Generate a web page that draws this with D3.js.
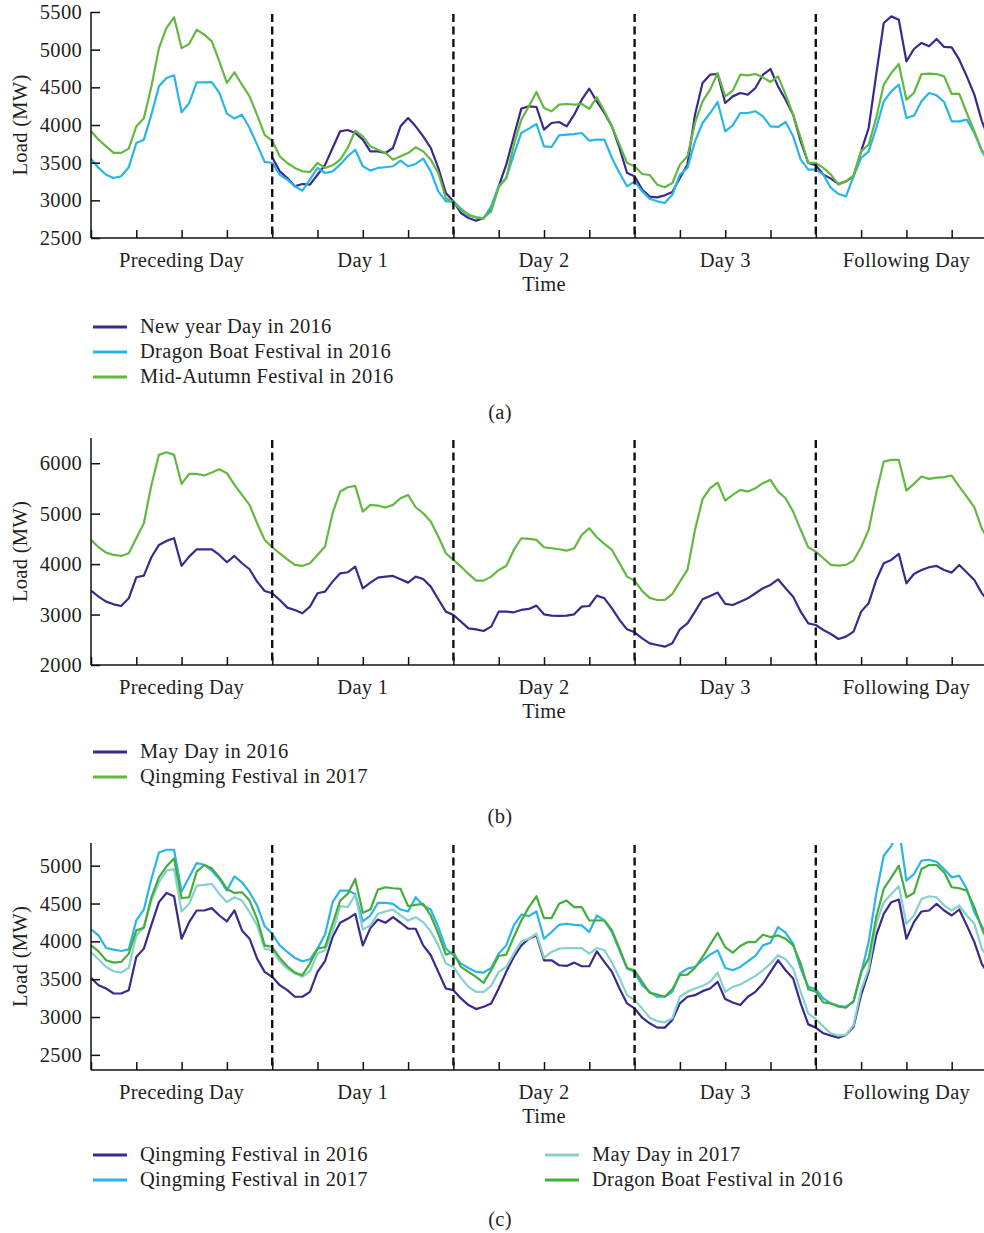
<!DOCTYPE html>
<html><head><meta charset="utf-8">
<script src="https://cdn.jsdelivr.net/npm/d3@7"></script>
<style>
body{margin:0;background:#fff}
svg{display:block}
text{font-family:"Liberation Serif","Times New Roman",serif;fill:#231f20}
</style>
</head><body>
<svg id="chart" width="984" height="1233"></svg>
<script>
// ---------- data ----------
const dayLabels = ["Preceding Day", "Day 1", "Day 2", "Day 3", "Following Day"];
const hoursPerDay = 24;
const xTitle = "Time";
const yTitle = "Load (MW)";

const aTicks = [2500, 3000, 3500, 4000, 4500, 5000, 5500];
const bTicks = [2000, 3000, 4000, 5000, 6000];
const cTicks = [2500, 3000, 3500, 4000, 4500, 5000];

// (a)
const aNewYear2016Start = 24;
const aNewYear2016 = [3571,3385,3296,3186,3217,3208,3340,3470,3695,3916,3934,3894,3805,3650,3650,3628,3695,3982,4093,3982,3850,3695,3430,3097,
 2987,2832,2765,2730,2765,2898,3186,3473,3850,4217,4248,4239,3939,4027,4040,3982,4137,4336,4482,4314,4159,3982,3695,3363,
 3319,3142,3050,3040,3066,3110,3297,3474,4137,4557,4668,4677,4292,4380,4425,4403,4491,4668,4743,4513,4336,4137,3783,3496,
 3465,3341,3288,3217,3252,3319,3650,3960,4668,5354,5442,5398,4845,5009,5089,5045,5142,5036,5031,4867,4646,4403,4049,3800];
const aDragonBoat2016 = [3553,3430,3340,3296,3320,3440,3760,3805,4137,4513,4625,4660,4170,4290,4566,4566,4570,4425,4150,4085,4137,3960,3740,3510,
 3496,3340,3274,3186,3128,3274,3430,3363,3385,3474,3584,3672,3452,3394,3430,3439,3452,3527,3452,3483,3553,3385,3120,2987,
 2987,2889,2810,2774,2757,2920,3186,3297,3606,3894,3952,4013,3717,3708,3863,3872,3880,3894,3792,3805,3805,3562,3363,3186,
 3252,3120,3020,2987,2965,3075,3341,3430,3783,4027,4159,4305,3916,3996,4159,4159,4182,4115,3982,3974,4040,3850,3540,3407,
 3407,3341,3164,3084,3053,3319,3562,3650,3960,4314,4447,4535,4093,4124,4314,4425,4394,4305,4049,4049,4071,3894,3650,3500];
const aMidAutumn2016 = [3920,3805,3717,3630,3630,3686,3980,4090,4510,5020,5290,5430,5020,5075,5265,5200,5110,4845,4560,4700,4535,4380,4135,3870,
 3790,3584,3496,3430,3385,3376,3496,3430,3465,3540,3695,3925,3850,3717,3672,3628,3540,3584,3628,3704,3650,3540,3363,3031,
 2965,2876,2801,2774,2765,2854,3173,3297,3739,4071,4248,4438,4226,4182,4270,4279,4270,4279,4213,4368,4182,3982,3739,3496,
 3452,3350,3336,3208,3173,3230,3474,3584,4027,4314,4469,4690,4380,4456,4668,4659,4677,4633,4571,4646,4403,4137,3828,3496,
 3496,3430,3341,3208,3252,3332,3650,3739,4093,4535,4690,4810,4336,4425,4677,4681,4677,4646,4412,4412,4159,3916,3660,3560];

// (b)
const bMayDay2016 = [3474,3355,3256,3203,3170,3322,3739,3772,4136,4380,4460,4513,3964,4149,4294,4294,4294,4182,4037,4162,4017,3898,3653,3468,
 3422,3289,3137,3091,3025,3157,3422,3454,3653,3818,3838,3950,3521,3633,3732,3752,3765,3699,3633,3752,3706,3554,3303,3058,
 2992,2860,2727,2707,2674,2760,3058,3058,3045,3091,3111,3177,3005,2979,2972,2979,3005,3157,3170,3375,3322,3124,2893,2707,
 2648,2529,2430,2397,2364,2430,2707,2826,3058,3303,3369,3435,3210,3190,3256,3322,3422,3521,3587,3699,3521,3355,3058,2826,
 2793,2694,2615,2516,2562,2661,3058,3223,3686,4017,4083,4202,3620,3805,3884,3937,3964,3884,3832,3984,3832,3686,3420,3250];
const bQingming2017 = [4480,4334,4228,4182,4162,4215,4513,4810,5570,6166,6218,6166,5590,5789,5789,5756,5815,5881,5802,5570,5372,5174,4810,4480,
 4334,4215,4096,3984,3964,4017,4182,4347,5008,5438,5524,5551,5041,5174,5161,5121,5174,5306,5372,5127,5008,4843,4546,4215,
 4083,3951,3805,3673,3673,3752,3884,3964,4281,4513,4499,4480,4334,4314,4294,4268,4314,4579,4711,4533,4400,4281,4017,3752,
 3673,3468,3330,3289,3289,3408,3653,3884,4678,5286,5504,5617,5260,5372,5471,5438,5504,5604,5670,5438,5306,5041,4678,4334,
 4248,4116,3984,3970,3984,4070,4334,4678,5405,6033,6066,6066,5458,5590,5736,5690,5716,5723,5756,5537,5339,5127,4700,4450];

// (c)
const cQingming2016 = [3518,3421,3377,3311,3311,3355,3794,3904,4219,4518,4640,4596,4035,4254,4408,4408,4439,4342,4263,4408,4145,4035,3772,3597,
 3531,3421,3355,3268,3268,3333,3597,3740,4057,4246,4298,4364,3947,4175,4289,4246,4320,4246,4167,4167,3947,3816,3597,3377,
 3355,3246,3158,3105,3136,3180,3377,3597,3794,3947,4035,4079,3750,3750,3684,3675,3719,3671,3671,3868,3728,3597,3377,3180,
 3114,2991,2917,2860,2860,2961,3180,3268,3289,3342,3377,3465,3237,3193,3158,3268,3333,3443,3597,3750,3618,3509,3180,2903,
 2860,2785,2754,2728,2763,2873,3289,3597,4079,4364,4518,4553,4035,4254,4395,4408,4496,4408,4342,4421,4211,3991,3700,3550];
const cQingming2017 = [4158,4079,3912,3890,3873,3895,4276,4421,4825,5175,5211,5211,4658,4846,5035,5013,4934,4825,4671,4860,4781,4649,4474,4202,
 4101,3947,3860,3781,3737,3763,3904,4090,4518,4671,4671,4627,4263,4342,4509,4509,4496,4421,4395,4583,4474,4421,4189,3904,
 3816,3706,3649,3597,3588,3649,3838,3947,4211,4355,4333,4395,4035,4123,4219,4233,4219,4211,4123,4342,4276,4123,3882,3640,
 3597,3421,3333,3268,3268,3333,3575,3640,3662,3750,3825,3882,3649,3618,3662,3737,3807,3947,3982,4189,4114,3969,3640,3399,
 3368,3246,3180,3149,3136,3202,3575,3991,4627,5132,5263,5500,4803,4890,5066,5079,5053,4956,4846,4868,4693,4386,4200,4000];
const cMayDay2017 = [3851,3763,3662,3605,3588,3649,4079,4189,4539,4781,4934,4956,4395,4496,4737,4746,4759,4627,4518,4583,4539,4386,4211,3904,
 3882,3737,3640,3575,3531,3605,3838,3882,4123,4465,4452,4614,4158,4211,4364,4395,4421,4342,4276,4320,4254,4132,3947,3706,
 3662,3518,3399,3333,3333,3412,3597,3662,3838,4000,4035,4101,3781,3860,3904,3912,3912,3912,3838,3912,3882,3719,3518,3290,
 3224,3114,2990,2947,2930,2982,3268,3333,3377,3412,3465,3588,3333,3399,3430,3487,3544,3618,3706,3816,3763,3640,3333,3048,
 2974,2873,2785,2754,2763,2895,3355,3640,4232,4518,4627,4728,4232,4342,4561,4596,4583,4474,4408,4474,4342,4232,3900,3750];
const cDragonBoat2016 = [3947,3868,3750,3719,3728,3838,4145,4180,4583,4846,4991,5096,4570,4583,4921,5009,4965,4846,4693,4640,4649,4539,4298,3947,
 3925,3781,3671,3588,3553,3706,3904,3925,4233,4539,4627,4825,4377,4421,4684,4715,4702,4693,4465,4483,4496,4342,4101,3825,
 3860,3662,3597,3531,3452,3618,3807,3825,4057,4276,4452,4596,4307,4307,4496,4539,4452,4452,4276,4276,4276,4145,3904,3649,
 3618,3465,3320,3298,3268,3368,3553,3561,3649,3794,3956,4114,3925,3851,3939,3991,3991,4088,4057,4079,4035,3947,3706,3368,
 3333,3193,3180,3136,3123,3211,3597,3772,4320,4693,4846,5000,4583,4640,4956,5009,5009,4912,4715,4702,4671,4452,4167,3950];

// ---------- styles ----------
const NAVY = "#3b2a8d", CYAN = "#29b5ea", GREEN = "#63b940", TEAL = "#86d1cd", GREEN2 = "#45ad3b";
const FONT = "20.5px";

const panels = [
  { top: 12, bottom: 238, domain: [2500, 5500], ticks: aTicks, caption: "(a)", captionY: 419,
    legendY: 327, legendCols: [93],
    series: [
      { name: "New year Day in 2016", color: NAVY, values: aNewYear2016, start: aNewYear2016Start, col: 0, row: 0 },
      { name: "Dragon Boat Festival in 2016", color: CYAN, values: aDragonBoat2016, start: 0, col: 0, row: 1 },
      { name: "Mid-Autumn Festival in 2016", color: GREEN, values: aMidAutumn2016, start: 0, col: 0, row: 2 }
    ] },
  { top: 438, bottom: 665, domain: [2000, 6500], ticks: bTicks, caption: "(b)", captionY: 823,
    legendY: 752, legendCols: [93],
    series: [
      { name: "May Day in 2016", color: NAVY, values: bMayDay2016, start: 0, col: 0, row: 0 },
      { name: "Qingming Festival in 2017", color: GREEN, values: bQingming2017, start: 0, col: 0, row: 1 }
    ] },
  { top: 843, bottom: 1070, domain: [2300, 5300], ticks: cTicks, caption: "(c)", captionY: 1226,
    legendY: 1155, legendCols: [93, 545],
    series: [
      { name: "Qingming Festival in 2016", color: NAVY, values: cQingming2016, start: 0, col: 0, row: 0 },
      { name: "Qingming Festival in 2017", color: CYAN, values: cQingming2017, start: 0, col: 0, row: 1 },
      { name: "May Day in 2017", color: TEAL, values: cMayDay2017, start: 0, col: 1, row: 0 },
      { name: "Dragon Boat Festival in 2016", color: GREEN2, values: cDragonBoat2016, start: 0, col: 1, row: 1 }
    ] }
];

const svg = d3.select("#chart");
const left = 91, right = 997;
const nDays = dayLabels.length;
const x = d3.scaleLinear().domain([0, nDays * hoursPerDay]).range([left, right]);

function label(sel) {
  return sel.style("font-size", FONT).style("letter-spacing", "0.3px");
}

panels.forEach((p, pi) => {
  const y = d3.scaleLinear().domain(p.domain).range([p.bottom, p.top]);
  const g = svg.append("g");
  const clipId = "clip" + pi;
  svg.append("clipPath").attr("id", clipId).append("rect")
    .attr("x", left).attr("y", p.top).attr("width", right - left).attr("height", p.bottom - p.top);

  // series lines
  const lines = g.append("g").attr("clip-path", `url(#${clipId})`);
  p.series.forEach(s => {
    const line = d3.line().x((d, i) => x(i + s.start)).y(d => y(d));
    lines.append("path").datum(s.values)
      .attr("d", line).attr("fill", "none")
      .attr("stroke", s.color).attr("stroke-width", 2.2)
      .attr("stroke-linejoin", "round");
  });

  // day separators
  d3.range(1, nDays).forEach(d => {
    g.append("line").attr("x1", x(d * hoursPerDay)).attr("x2", x(d * hoursPerDay))
      .attr("y1", p.top + 2).attr("y2", p.bottom)
      .attr("stroke", "#111").attr("stroke-width", 2.4).attr("stroke-dasharray", "8,4.5");
  });

  // x axis
  const xAxis = d3.axisBottom(x)
    .tickValues(d3.range(0, nDays * hoursPerDay + 1, 6))
    .tickSize(-8).tickFormat("");
  const xg = g.append("g").attr("transform", `translate(0,${p.bottom})`).call(xAxis);
  xg.selectAll("path,line").attr("stroke", "#111").attr("stroke-width", 1.5);
  xg.select(".domain").attr("d", `M${left},0H${right}`);

  // y axis (ticks point inward)
  const yAxis = d3.axisLeft(y).tickValues(p.ticks).tickSize(-9).tickPadding(9).tickFormat(d3.format("d"));
  const yg = g.append("g").attr("transform", `translate(${left},0)`).call(yAxis);
  yg.selectAll("path,line").attr("stroke", "#111").attr("stroke-width", 1.5);
  yg.select(".domain").attr("d", `M0,${p.top}V${p.bottom}`);
  yg.selectAll("text").attr("fill", "#231f20")
    .style("font-family", '"Liberation Serif",serif').call(label);

  // day labels
  dayLabels.forEach((lab, d) => {
    g.append("text").attr("x", x(d * hoursPerDay + hoursPerDay / 2)).attr("y", p.bottom + 29)
      .attr("text-anchor", "middle").call(label).text(lab);
  });
  g.append("text").attr("x", x(2 * hoursPerDay + hoursPerDay / 2)).attr("y", p.bottom + 53)
    .attr("text-anchor", "middle").call(label).text(xTitle);

  // y title
  g.append("text").attr("transform", `translate(27,${(p.top + p.bottom) / 2}) rotate(-90)`)
    .attr("text-anchor", "middle").call(label).text(yTitle);

  // legend
  p.series.forEach(s => {
    const lx = p.legendCols[s.col];
    const ly = p.legendY + s.row * 25;
    g.append("line").attr("x1", lx).attr("x2", lx + 34).attr("y1", ly).attr("y2", ly)
      .attr("stroke", s.color).attr("stroke-width", 3);
    g.append("text").attr("x", lx + 47).attr("y", ly + 6).call(label).text(s.name);
  });

  // caption
  g.append("text").attr("x", 500).attr("y", p.captionY).attr("text-anchor", "middle")
    .call(label).text(p.caption);
});
</script>
</body></html>
